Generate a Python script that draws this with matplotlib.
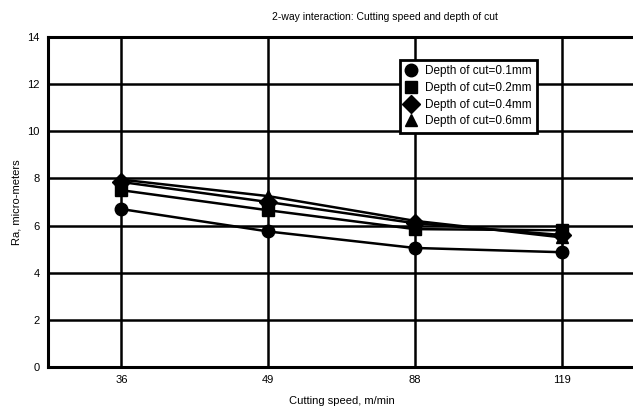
import matplotlib
matplotlib.use('Agg')
import matplotlib.pyplot as plt

plt.rcParams['font.family'] = ['Liberation Sans', 'DejaVu Sans']

# Cutting speed levels (m/min) and mean Ra (micro-meters) for each depth of cut
speeds = ['36', '49', '88', '119']
ra_depth_01 = [6.7, 5.75, 5.05, 4.87]
ra_depth_02 = [7.5, 6.65, 5.85, 5.8]
ra_depth_04 = [7.85, 7.0, 6.1, 5.6]
ra_depth_06 = [7.95, 7.25, 6.2, 5.5]

series = [
    ('Depth of cut=0.1mm', ra_depth_01, 'o'),
    ('Depth of cut=0.2mm', ra_depth_02, 's'),
    ('Depth of cut=0.4mm', ra_depth_04, 'D'),
    ('Depth of cut=0.6mm', ra_depth_06, '^'),
]

fig = plt.figure(figsize=(6.33, 4.16), dpi=100)
ax = fig.add_axes([48 / 633, 1 - 367 / 416, 587 / 633, 330 / 416])

x = list(range(len(speeds)))
for label, values, marker in series:
    ax.plot(x, values, color='black', linewidth=1.8, marker=marker,
            markersize=9, label=label, zorder=3)

ax.set_xlim(-0.5, 3.5)
ax.set_ylim(0, 14)
ax.set_xticks(x)
ax.set_xticklabels(speeds)
ax.set_yticks(range(0, 15, 2))
ax.tick_params(length=0, labelsize=8, pad=6)
ax.grid(True, color='black', linewidth=1.8)
for side in ['left', 'bottom', 'top']:
    ax.spines[side].set_linewidth(2.2)
ax.spines['right'].set_visible(False)

ax.set_xlabel('Cutting speed, m/min', fontsize=8, labelpad=8)
ax.set_ylabel('Ra, micro-meters', fontsize=8, labelpad=4)
fig.text(385 / 633, 1 - 17 / 416, '2-way interaction: Cutting speed and depth of cut',
         ha='center', va='center', fontsize=7.5)

leg = ax.legend(handles=[plt.Line2D([], [], color='black', linestyle='none',
                                    marker=m, markersize=9) for _, _, m in series],
                labels=[s[0] for s in series],
                loc='upper left', bbox_to_anchor=(352 / 587, 1 - 23 / 330),
                borderaxespad=0, fontsize=8.5,
                frameon=True, fancybox=False, framealpha=1, edgecolor='black',
                handlelength=1.0, handletextpad=0.7, labelspacing=0.4,
                borderpad=0.45)
leg.get_frame().set_linewidth(2)
leg.set_zorder(5)

fig.savefig('out.png', dpi=100)
